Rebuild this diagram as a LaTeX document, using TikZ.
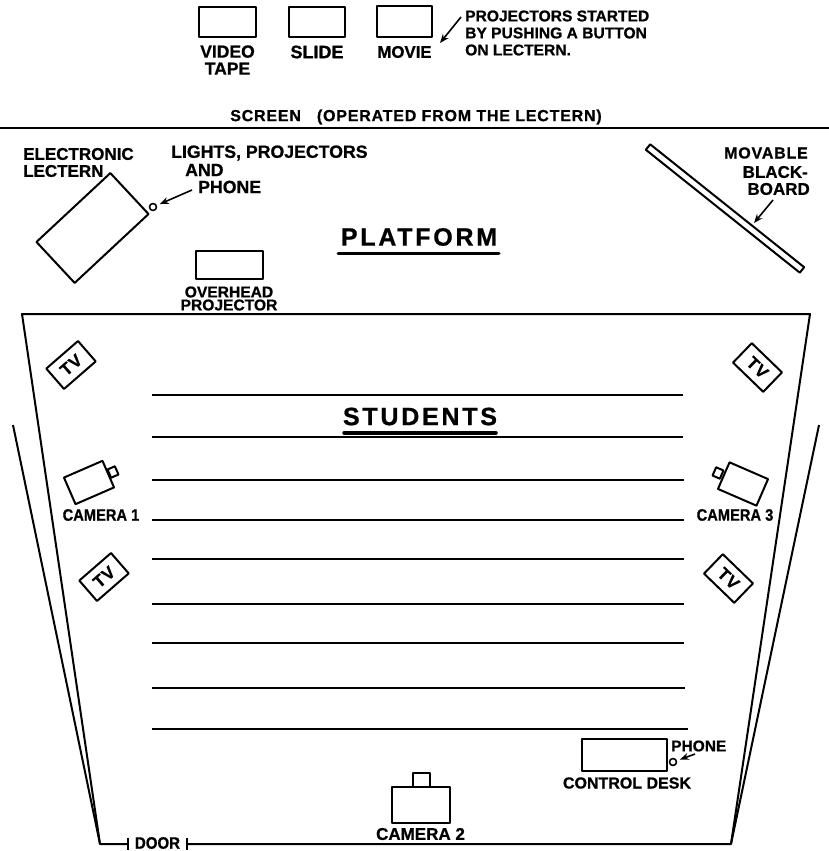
\documentclass[tikz,border=0pt]{standalone}
\usepackage{fontspec}
\setmainfont[BoldFeatures={FakeBold=0.8}]{Liberation Sans}
\newfontfamily\widefont[LetterSpace=11,BoldFeatures={FakeBold=0.8}]{Liberation Sans}
\newfontfamily\spacedfont[LetterSpace=5,BoldFeatures={FakeBold=0.8}]{Liberation Sans}
\usetikzlibrary{arrows,arrows.meta}
\usetikzlibrary{positioning}

\tikzset{
  box/.style={draw,line width=2pt,inner sep=0pt},
  lbl/.style={inner sep=0pt,font=\fontsize{#1}{17}\selectfont\bfseries,align=center},
  lbl/.default=17,
  narrow/.style={xscale=#1,transform shape},
  tight/.style={inner sep=0pt,font=\fontsize{15.6}{13}\selectfont\bfseries,align=center},
  big/.style={inner sep=0pt,font=\fontsize{25}{26}\selectfont\bfseries\widefont},
  tvbox/.style={box,minimum width=42pt,minimum height=27pt,font=\fontsize{17}{17}\selectfont\bfseries\spacedfont},
  btn/.style={draw,line width=1.6pt,circle,inner sep=0pt,minimum size=7pt},
  ptr/.style={-{Stealth[length=9pt,width=7pt]},line width=1.6pt},
  wall/.style={line width=2pt},
}

\begin{document}
\begin{tikzpicture}[x=1pt,y=-1pt,node distance=30pt,line join=round]
\useasboundingbox (0,0) rectangle (829,851);

\node[box,minimum width=57pt,minimum height=30pt] (videobox) at (227.5,22) {};
\node[box,minimum width=56pt,minimum height=30pt] (slidebox) at (317,22) {};
\node[box,minimum width=55pt,minimum height=31pt] (moviebox) at (404.5,21.5) {};
\node[lbl=17.5] (videolbl) [below of = videobox, yshift=-8pt] {VIDEO\\TAPE};
\node[lbl=18] (slidelbl) [below of = slidebox] {SLIDE};
\node[lbl=16.8] (movielbl) [below of = moviebox, yshift=-0.5pt] {MOVIE};
\node[lbl=15.6,anchor=west,align=left] (startlbl) at (465,33) {PROJECTORS STARTED\\BY PUSHING A BUTTON\\ON LECTERN.};
\coordinate (starttail) at (461,17);
\coordinate (starthead) at (440,43);
\draw[ptr] (starttail) -- (starthead);

\node[lbl,font=\fontsize{16}{17}\selectfont\bfseries\spacedfont] (screenlbl) at (416,117) {SCREEN\quad(OPERATED FROM THE LECTERN)};
\coordinate (screenl) at (0,127.5);
\coordinate (screenr) at (829,127.5);
\draw[wall] (screenl) -- (screenr);

% platform
\node[lbl,anchor=west,align=left] (electlbl) at (23,162.5) {ELECTRONIC\\LECTERN};
\node[box,minimum width=101pt,minimum height=56pt,rotate=43] (lectern) at (92.5,228) {};
\node[btn] (lectbtn) at (153,207) {};
\node[lbl=17.7,anchor=west] (lightslbl) at (171,153) {LIGHTS, PROJECTORS};
\node[lbl=17.7,anchor=west] (andlbl) at (185,170) {AND};
\node[lbl=17.7,anchor=west] (phonelbl) at (198,187) {PHONE};
\coordinate (lecttail) at (192,190);
\draw[ptr,shorten >=3pt] (lecttail) -- (lectbtn);

\node[big] (platlbl) at (419,237) {PLATFORM};
\coordinate (platl) at (338,253);
\coordinate (platr) at (499,253);
\draw[line width=3pt,line cap=round] (platl) -- (platr);

\node[box,minimum width=67pt,minimum height=28pt] (overhead) at (229.5,265) {};
\node[tight] (overlbl) at (229,298.5) {OVERHEAD\\PROJECTOR};

\node[box,minimum width=197pt,minimum height=7pt,rotate=-38.6] (board) at (725,208.5) {};
\node[lbl=16,anchor=east,font=\fontsize{16}{17}\selectfont\bfseries\spacedfont] (movlbl) at (808,153) {MOVABLE};
\node[lbl=17,anchor=east] (blacklbl) at (808,172) {BLACK-};
\node[lbl=17,anchor=east] (boardlbl) at (810,189) {BOARD};
\coordinate (boardtail) at (773,200);
\coordinate (boardhead) at (754,223);
\draw[ptr] (boardtail) -- (boardhead);

% room
\coordinate (roomtl) at (22,314);
\coordinate (roomtr) at (810,314);
\coordinate (roombl) at (100,844);
\coordinate (roombr) at (731,844);
\coordinate (outerl) at (13,425);
\coordinate (outerr) at (819,425);
\node[lbl=16.5,narrow=.91] (doorlbl) at (157.5,843) {DOOR};
\coordinate (doorl) at (128,844);
\coordinate (doorr) at (187,844);
\draw[wall] (doorl) -- (roombl) -- (roomtl) -- (roomtr) -- (roombr) -- (doorr);
\draw[wall] ([yshift=6pt]doorl) -- ([yshift=-6pt]doorl);
\draw[wall] ([yshift=6pt]doorr) -- ([yshift=-6pt]doorr);
\draw[wall] (outerl) -- (roombl);
\draw[wall] (outerr) -- (roombr);

\foreach \y/\e in {395/683,437/683,480/684,520/684,559/684,604/684,643/684,688/685,729/688}
  \draw[wall] (152,\y) -- (\e,\y);

\node[big] (studlbl) at (420,416.5) {STUDENTS};
\coordinate (studl) at (344,433);
\coordinate (studr) at (496,433);
\draw[line width=3.5pt,line cap=round] (studl) -- (studr);

\node[tvbox,rotate=41] (tvtl) at (71,365) {TV};
\node[tvbox,rotate=-44] (tvtr) at (757.5,367.5) {TV};
\node[tvbox,rotate=41] (tvbl) at (104,577) {TV};
\node[tvbox,rotate=-44] (tvbr) at (728.5,578.5) {TV};

% cameras
\node[box,minimum width=8pt,minimum height=9pt,rotate=23.5] (lensa) at (113,472) {};
\node[box,fill=white,minimum width=42pt,minimum height=29pt,rotate=23.5] (cama) at (89,482.5) {};
\node[lbl=16.5,narrow=.89] (camalbl) at (101,515) {CAMERA 1};
\node[box,minimum width=8pt,minimum height=9pt,rotate=-23.5] (lensc) at (718,473) {};
\node[box,fill=white,minimum width=42pt,minimum height=29pt,rotate=-23.5] (camc) at (743,484) {};
\node[lbl=16.5,narrow=.89] (camclbl) at (735,515) {CAMERA 3};
\node[box,minimum width=17pt,minimum height=14pt] (lensb) at (421.5,780) {};
\node[box,fill=white,minimum width=58pt,minimum height=36pt] (camb) at (421,805) {};
\node[lbl=17] (camblbl) at (420.5,834) {CAMERA 2};

% control desk
\node[box,minimum width=85pt,minimum height=32pt] (desk) at (624.5,755) {};
\node[lbl=16] (desklbl) at (627,783) {CONTROL DESK};
\node[btn] (deskbtn) at (673,762) {};
\node[lbl=15.5,anchor=west] (deskphone) at (671,746) {PHONE};
\coordinate (desktail) at (695,754);
\draw[ptr,shorten >=3pt] (desktail) -- (deskbtn);

\end{tikzpicture}
\end{document}
